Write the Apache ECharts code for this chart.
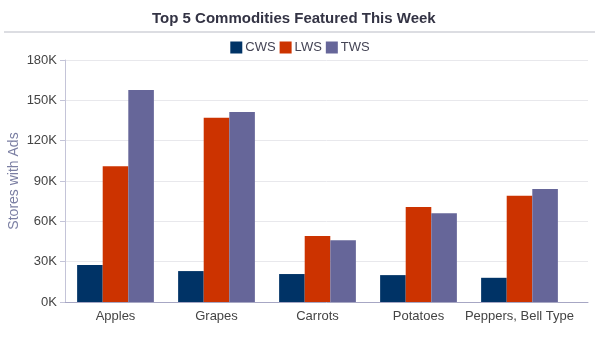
<!DOCTYPE html>
<html><head><meta charset="utf-8">
<script src="https://cdn.jsdelivr.net/npm/echarts@6/dist/echarts.min.js"></script>
<style>html,body{margin:0;padding:0;background:#fff}#c{width:600px;height:346px}</style>
</head><body><div id="c"></div>
<script>
const categories = ["Apples", "Grapes", "Carrots", "Potatoes", "Peppers, Bell Type"];
const cws = [27500, 23000, 20800, 20000, 18000];
const lws = [101000, 137000, 49000, 70700, 79000];
const tws = [157700, 141400, 46000, 66000, 84000];
const chart = echarts.init(document.getElementById('c'));
const font = 'Liberation Sans';
chart.setOption({
  animation: false,
  title: {text: 'Top 5 Commodities Featured This Week', left: 147, top: 6,
    textStyle: {fontFamily: font, fontSize: 15, fontWeight: 'bold', color: '#333344'}},
  graphic: [{type: 'line', shape: {x1: 4, y1: 32, x2: 595, y2: 32}, style: {stroke: '#dcdde2', lineWidth: 2}}],
  legend: {top: 36, left: 'center', itemWidth: 12, itemHeight: 12, itemGap: 4, icon: 'rect',
    textStyle: {fontFamily: font, fontSize: 13, color: '#444455', padding: [0,0,0,-2]}},
  grid: [
    {left: 65, right: 12, top: 60, bottom: 44, outerBoundsMode: 'none'},
    {left: 65, right: 30, top: 60, bottom: 44, outerBoundsMode: 'none'}
  ],
  xAxis: [
    {gridIndex: 0, type: 'value', min: 0, max: 1, axisLine: {show: true, onZero: false, lineStyle: {color: '#a7a7c4'}},
      axisTick: {show: false}, axisLabel: {show: false}, splitLine: {show: false}},
    {gridIndex: 1, type: 'category', data: categories,
      axisLine: {show: false}, axisTick: {show: false},
      axisLabel: {interval: 0, hideOverlap: false, fontFamily: font, fontSize: 13, color: '#444', margin: 8}}
  ],
  yAxis: [
    {gridIndex: 0, type: 'value', min: 0, max: 180000, interval: 30000,
      name: 'Stores with Ads', nameLocation: 'middle', nameGap: 44, nameMoveOverlap: false,
      nameTextStyle: {fontFamily: font, fontSize: 14, color: '#7b7fa3'},
      axisLine: {show: true, lineStyle: {color: '#c4c4d8'}},
      splitLine: {lineStyle: {color: '#e8e8ec'}},
      axisLabel: {fontFamily: font, fontSize: 13, color: '#444', margin: 8,
        formatter: v => (v/1000) + 'K'}},
    {gridIndex: 1, type: 'value', min: 0, max: 180000, interval: 30000, show: false}
  ],
  series: [
    {name: 'CWS', type: 'bar', xAxisIndex: 1, yAxisIndex: 1, data: cws, itemStyle: {color: '#003366'}, barGap: '0%', barCategoryGap: '24%'},
    {name: 'LWS', type: 'bar', xAxisIndex: 1, yAxisIndex: 1, data: lws, itemStyle: {color: '#cc3300'}},
    {name: 'TWS', type: 'bar', xAxisIndex: 1, yAxisIndex: 1, data: tws, itemStyle: {color: '#666699'}}
  ]
});
</script></body></html>
